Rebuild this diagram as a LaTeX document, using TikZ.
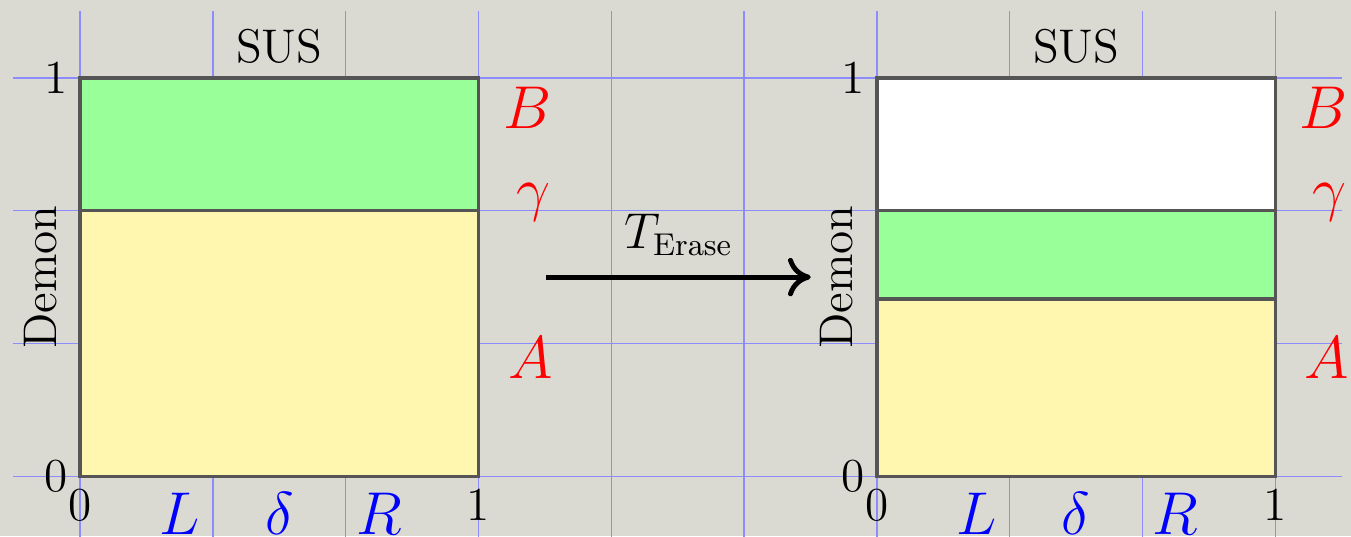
\documentclass[tikz,border=0pt]{standalone}
\usetikzlibrary{arrows.meta}
\definecolor{bgGrey}{HTML}{DADAD3}
\definecolor{gridBlue}{HTML}{8C8CFF}
\definecolor{boxStroke}{HTML}{555555}
\definecolor{susFill}{HTML}{99FF99}
\definecolor{demFill}{HTML}{FFF7B0}

\begin{document}
\begin{tikzpicture}[
  x=4cm, y=4cm,
  font=\fontsize{13.5}{16}\selectfont,
  gridln/.style ={draw=gridBlue, line width=0.4pt},
  region/.style ={draw=boxStroke, line width=1pt},
  setlbl/.style ={text=red, font=\fontsize{16.2}{19}\selectfont},
  partlbl/.style={text=blue, font=\fontsize{16.2}{19}\selectfont, anchor=north, inner sep=0pt},
  arr/.style    ={-{To[length=6.5pt,width=11pt]}, line width=1.4pt},
]

% ==================== background & grid ====================
\path[use as bounding box, fill=bgGrey] (-0.201,-0.1505) rectangle (3.19,1.1955);
\foreach \gx in {0,...,9} \draw[gridln] (\gx/3,-0.17) -- (\gx/3,1.167);
\foreach \gy in {0,...,3} \draw[gridln] (-0.168,\gy/3) -- (3.167,\gy/3);

% ==================== LEFT: before erasure ====================
\fill[demFill] (0,0) rectangle (1,2/3);
\fill[susFill] (0,2/3) rectangle (1,1);
\draw[region] (0,2/3) -- (1,2/3);
\draw[region] (0,0) rectangle (1,1);

\node[left]  (ly1) at (0,1) {1};
\node[left]  (ly0) at (0,0) {0};
\node[below] (lx0) at (0,0) {0};
\node[below] (lx1) at (1,0) {1};
\node[partlbl] (lL) at (0.25,-0.04) {$L$};
\node[partlbl] (lD) at (0.5,-0.04)  {$\delta$};
\node[partlbl] (lR) at (0.75,-0.04) {$R$};
\node (lsus)   at (0.5,1.08) {SUS};
\node[rotate=90] (ldemon) at (-0.1,0.5) {Demon};
\node[setlbl] (lB) at (1.122,0.925) {$B$};
\node[setlbl] (lG) at (1.137,0.687) {$\gamma$};
\node[setlbl] (lA) at (1.13,0.298)  {$A$};

% ==================== Erase map ====================
\coordinate (erFrom) at (1.17,0.5);
\coordinate (erTo)   at (1.834,0.5);
\draw[arr] (erFrom) -- node[above=2pt] (erLbl) {$T_{\mathrm{Erase}}$} (erTo);

% ==================== RIGHT: after erasure ====================
\begin{scope}[shift={(2,0)}]
  \fill[demFill] (0,0) rectangle (1,4/9);
  \fill[susFill] (0,4/9) rectangle (1,2/3);
  \fill[white]   (0,2/3) rectangle (1,1);
  \draw[region] (0,4/9) -- (1,4/9);
  \draw[region] (0,2/3) -- (1,2/3);
  \draw[region] (0,0) rectangle (1,1);

  \node[left]  (ry1) at (0,1) {1};
  \node[left]  (ry0) at (0,0) {0};
  \node[below] (rx0) at (0,0) {0};
  \node[below] (rx1) at (1,0) {1};
  \node[partlbl] (rL) at (0.25,-0.04) {$L$};
  \node[partlbl] (rD) at (0.5,-0.04)  {$\delta$};
  \node[partlbl] (rR) at (0.75,-0.04) {$R$};
  \node (rsus)   at (0.5,1.08) {SUS};
  \node[rotate=90] (rdemon) at (-0.1,0.5) {Demon};
  \node[setlbl] (rB) at (1.122,0.925) {$B$};
  \node[setlbl] (rG) at (1.137,0.687) {$\gamma$};
  \node[setlbl] (rA) at (1.13,0.298)  {$A$};
\end{scope}

\end{tikzpicture}
\end{document}
